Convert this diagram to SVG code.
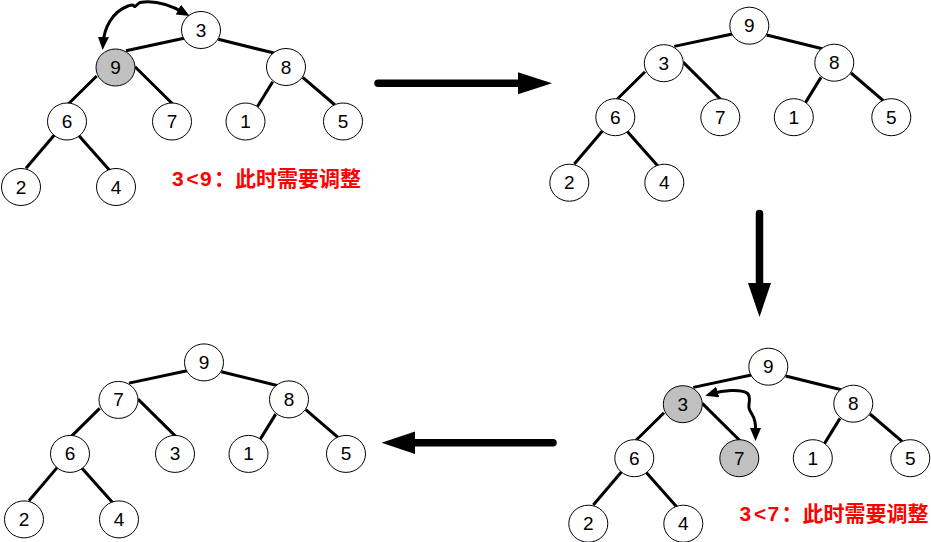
<svg xmlns="http://www.w3.org/2000/svg" width="931" height="542" viewBox="0 0 931 542">
<style>
.edge{stroke:#000;stroke-width:3;fill:none}
.nd ellipse{fill:#fff;stroke:#000;stroke-width:1}
.nd.hl ellipse{fill:#c0c0c0}
.nd text{font-family:"Liberation Sans",Arial,sans-serif;font-size:19px;fill:#000;text-anchor:middle}
.big{stroke:#000;stroke-width:7.5;stroke-linecap:round;fill:none}
.swap{stroke:#000;stroke-width:3;fill:none;marker-start:url(#ah);marker-end:url(#ah)}
.note{font-family:"Liberation Sans","Noto Sans CJK SC",sans-serif;font-size:21px;font-weight:bold;fill:#ff0000}
</style>
<defs>
<marker id="ah" markerUnits="userSpaceOnUse" markerWidth="13" markerHeight="11" refX="7" refY="5.5" orient="auto-start-reverse" viewBox="0 0 13 11">
<path d="M0,0 L13,5.5 L0,11 z" fill="#000"/>
</marker>
<g id="edges">
<line class="edge" x1="126" y1="50.7" x2="184" y2="38.3"/>
<line class="edge" x1="218.3" y1="39.3" x2="275" y2="53.3"/>
<line class="edge" x1="96.7" y1="76" x2="68.3" y2="104"/>
<line class="edge" x1="135" y1="66.7" x2="172.7" y2="104"/>
<line class="edge" x1="272.7" y1="81.7" x2="257.3" y2="106.7"/>
<line class="edge" x1="302.7" y1="77.3" x2="335" y2="105"/>
<line class="edge" x1="54.3" y1="135" x2="26" y2="168.3"/>
<line class="edge" x1="78.3" y1="135" x2="110" y2="170.7"/>
</g>
</defs>

<g id="connectors">
<use href="#edges"/>
<use href="#edges" transform="translate(548.3,-4.3)"/>
<use href="#edges" transform="translate(567.3,336.7)"/>
<use href="#edges" transform="translate(3,332.4)"/>
<path class="big" d="M378,83.3 H520"/>
<polygon points="518,72.3 518,94.3 552,83.3" fill="#000"/>
<path class="big" d="M759.5,213.5 V285"/>
<polygon points="748,283 771,283 759.5,317" fill="#000"/>
<path class="big" d="M553,442.7 H413"/>
<polygon points="415,431.5 415,454 381.5,442.7" fill="#000"/>
<path class="swap" d="M103,44 C104,28 112,12 128,6 C131,5 133,4 134,6 C135,8 137,4 140,2.5 C155,0 172,6 184.4,13"/>
<path class="swap" d="M711,394 C724,390 740,389 747,393 C752,397 748,403 749,408 C750,413 754,415 755,422 C756,427 755.5,431 755.5,435"/>
</g>

<g id="tree1">
<g id="t1-root" class="nd"><ellipse cx="201" cy="30" rx="19.5" ry="18.5"/><text x="201" y="36.5">3</text></g>
<g id="t1-l" class="nd hl"><ellipse cx="115.5" cy="67.5" rx="19.5" ry="18.5"/><text x="115.5" y="74">9</text></g>
<g id="t1-r" class="nd"><ellipse cx="286" cy="67" rx="19.5" ry="18.5"/><text x="286" y="73.5">8</text></g>
<g id="t1-ll" class="nd"><ellipse cx="67" cy="121.5" rx="19.5" ry="18.5"/><text x="67" y="128">6</text></g>
<g id="t1-lr" class="nd"><ellipse cx="172" cy="121.5" rx="19.5" ry="18.5"/><text x="172" y="128">7</text></g>
<g id="t1-rl" class="nd"><ellipse cx="245.5" cy="121.5" rx="19.5" ry="18.5"/><text x="245.5" y="128">1</text></g>
<g id="t1-rr" class="nd"><ellipse cx="343" cy="121.5" rx="19.5" ry="18.5"/><text x="343" y="128">5</text></g>
<g id="t1-lll" class="nd"><ellipse cx="21" cy="187" rx="19.5" ry="18.5"/><text x="21" y="193.5">2</text></g>
<g id="t1-llr" class="nd"><ellipse cx="116" cy="187" rx="19.5" ry="18.5"/><text x="116" y="193.5">4</text></g>
</g>

<g id="tree2" transform="translate(548.3,-4.3)">
<g id="t2-root" class="nd"><ellipse cx="201" cy="30" rx="19.5" ry="18.5"/><text x="201" y="36.5">9</text></g>
<g id="t2-l" class="nd"><ellipse cx="115.5" cy="67.5" rx="19.5" ry="18.5"/><text x="115.5" y="74">3</text></g>
<g id="t2-r" class="nd"><ellipse cx="286" cy="67" rx="19.5" ry="18.5"/><text x="286" y="73.5">8</text></g>
<g id="t2-ll" class="nd"><ellipse cx="67" cy="121.5" rx="19.5" ry="18.5"/><text x="67" y="128">6</text></g>
<g id="t2-lr" class="nd"><ellipse cx="172" cy="121.5" rx="19.5" ry="18.5"/><text x="172" y="128">7</text></g>
<g id="t2-rl" class="nd"><ellipse cx="245.5" cy="121.5" rx="19.5" ry="18.5"/><text x="245.5" y="128">1</text></g>
<g id="t2-rr" class="nd"><ellipse cx="343" cy="121.5" rx="19.5" ry="18.5"/><text x="343" y="128">5</text></g>
<g id="t2-lll" class="nd"><ellipse cx="21" cy="187" rx="19.5" ry="18.5"/><text x="21" y="193.5">2</text></g>
<g id="t2-llr" class="nd"><ellipse cx="116" cy="187" rx="19.5" ry="18.5"/><text x="116" y="193.5">4</text></g>
</g>

<g id="tree3" transform="translate(567.3,336.7)">
<g id="t3-root" class="nd"><ellipse cx="201" cy="30" rx="19.5" ry="18.5"/><text x="201" y="36.5">9</text></g>
<g id="t3-l" class="nd hl"><ellipse cx="115.5" cy="67.5" rx="19.5" ry="18.5"/><text x="115.5" y="74">3</text></g>
<g id="t3-r" class="nd"><ellipse cx="286" cy="67" rx="19.5" ry="18.5"/><text x="286" y="73.5">8</text></g>
<g id="t3-ll" class="nd"><ellipse cx="67" cy="121.5" rx="19.5" ry="18.5"/><text x="67" y="128">6</text></g>
<g id="t3-lr" class="nd hl"><ellipse cx="172" cy="121.5" rx="19.5" ry="18.5"/><text x="172" y="128">7</text></g>
<g id="t3-rl" class="nd"><ellipse cx="245.5" cy="121.5" rx="19.5" ry="18.5"/><text x="245.5" y="128">1</text></g>
<g id="t3-rr" class="nd"><ellipse cx="343" cy="121.5" rx="19.5" ry="18.5"/><text x="343" y="128">5</text></g>
<g id="t3-lll" class="nd"><ellipse cx="21" cy="187" rx="19.5" ry="18.5"/><text x="21" y="193.5">2</text></g>
<g id="t3-llr" class="nd"><ellipse cx="116" cy="187" rx="19.5" ry="18.5"/><text x="116" y="193.5">4</text></g>
</g>

<g id="tree4" transform="translate(3,332.4)">
<g id="t4-root" class="nd"><ellipse cx="201" cy="30" rx="19.5" ry="18.5"/><text x="201" y="36.5">9</text></g>
<g id="t4-l" class="nd"><ellipse cx="115.5" cy="67.5" rx="19.5" ry="18.5"/><text x="115.5" y="74">7</text></g>
<g id="t4-r" class="nd"><ellipse cx="286" cy="67" rx="19.5" ry="18.5"/><text x="286" y="73.5">8</text></g>
<g id="t4-ll" class="nd"><ellipse cx="67" cy="121.5" rx="19.5" ry="18.5"/><text x="67" y="128">6</text></g>
<g id="t4-lr" class="nd"><ellipse cx="172" cy="121.5" rx="19.5" ry="18.5"/><text x="172" y="128">3</text></g>
<g id="t4-rl" class="nd"><ellipse cx="245.5" cy="121.5" rx="19.5" ry="18.5"/><text x="245.5" y="128">1</text></g>
<g id="t4-rr" class="nd"><ellipse cx="343" cy="121.5" rx="19.5" ry="18.5"/><text x="343" y="128">5</text></g>
<g id="t4-lll" class="nd"><ellipse cx="21" cy="187" rx="19.5" ry="18.5"/><text x="21" y="193.5">2</text></g>
<g id="t4-llr" class="nd"><ellipse cx="116" cy="187" rx="19.5" ry="18.5"/><text x="116" y="193.5">4</text></g>
</g>

<g id="notes">
<text class="note" y="186"><tspan x="172">3</tspan><tspan x="186.5">&lt;</tspan><tspan x="200">9</tspan><tspan x="214">：</tspan><tspan x="235">此时需要调整</tspan></text>
<text class="note" y="521"><tspan x="739.5">3</tspan><tspan x="754">&lt;</tspan><tspan x="767.5">7</tspan><tspan x="781.5">：</tspan><tspan x="802.5">此时需要调整</tspan></text>
</g>
</svg>
